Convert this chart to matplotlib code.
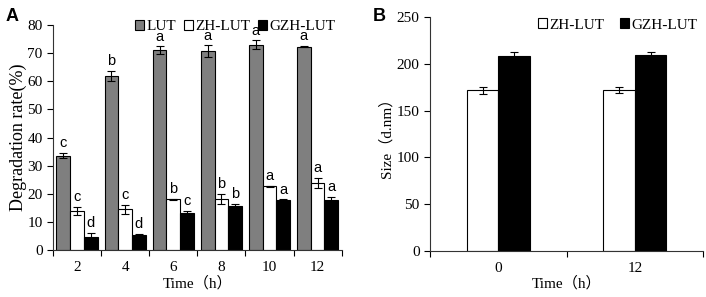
import numpy as np
import matplotlib.pyplot as plt

# panel A data
times_a = ["2", "4", "6", "8", "10", "12"]
lut = [33.6, 61.8, 71.0, 70.7, 73.0, 72.3]
lut_err = [0.9, 1.8, 1.4, 2.0, 1.5, 0.2]
zh = [13.9, 14.5, 18.0, 18.2, 22.7, 23.9]
zh_err = [1.4, 1.6, 0.1, 1.8, 0.2, 1.7]
gzh = [4.5, 5.3, 13.1, 15.8, 17.7, 17.8]
gzh_err = [1.5, 0.4, 0.7, 0.5, 0.3, 1.0]
lut_sig = ["c", "b", "a", "a", "a", "a"]
zh_sig = ["c", "c", "b", "b", "a", "a"]
gzh_sig = ["d", "d", "c", "b", "a", "a"]

# panel B data
times_b = ["0", "12"]
size_zh = [171.5, 171.8]
size_zh_err = [3.5, 3.5]
size_gzh = [208.5, 209.8]
size_gzh_err = [4.5, 3.0]

serif = ["Liberation Serif", "Noto Sans CJK SC"]
sans = ["Liberation Sans", "DejaVu Sans"]
plt.rcParams["font.family"] = serif
plt.rcParams["font.size"] = 10.5

fig = plt.figure(figsize=(7.06, 2.97), dpi=100)
axA = fig.add_axes([0.075, 0.158, 0.409, 0.758])
axB = fig.add_axes([0.609, 0.155, 0.387, 0.788])

ekw = dict(ecolor="black", elinewidth=0.8, capsize=3, capthick=0.8)


def style_axis(ax, n):
    for s in ["top", "right"]:
        ax.spines[s].set_visible(False)
    ax.spines["left"].set_color("#333333")
    ax.spines["bottom"].set_color("#333333")
    ax.set_xlim(-0.5, n - 0.5)
    ax.set_xticks(np.arange(n + 1) - 0.5)
    ax.set_xticklabels([""] * (n + 1))
    ax.tick_params(axis="x", which="major", direction="out", length=4, width=0.8)
    ax.tick_params(axis="y", direction="out", length=4, width=0.8, labelsize=11)
    ax.set_xticks(np.arange(n), minor=True)
    ax.tick_params(axis="x", which="minor", length=0, labelsize=11, pad=8)


# panel A
x = np.arange(len(times_a))
w = 0.285
series = [(lut, lut_err, lut_sig, "#7f7f7f", "LUT"),
          (zh, zh_err, zh_sig, "white", "ZH-LUT"),
          (gzh, gzh_err, gzh_sig, "black", "GZH-LUT")]
for i, (vals, errs, sig, col, lab) in enumerate(series):
    xs = x + (i - 1) * w
    axA.bar(xs, vals, w, yerr=errs, color=col, edgecolor="black",
            linewidth=0.8, error_kw=ekw, label=lab)
    for xi, v, e, s in zip(xs, vals, errs, sig):
        axA.annotate(s, (xi, v + e), xytext=(0, 2), textcoords="offset points",
                     ha="center", va="bottom", fontsize=10.5, family=sans)
axA.set_ylim(0, 80)
axA.set_yticks(range(0, 81, 10))
style_axis(axA, len(times_a))
axA.set_xticklabels(times_a, minor=True)
axA.set_ylabel("Degradation rate(%)", fontsize=13, labelpad=0)
axA.set_xlabel("Time（h）", fontsize=11, labelpad=1)
axA.legend(loc="upper right", bbox_to_anchor=(1.0, 1.05), ncol=3, frameon=False,
           handlelength=0.6, handleheight=0.6, handletextpad=0.15,
           columnspacing=0.5, fontsize=11, borderaxespad=0)
fig.text(0.008, 0.93, "A", fontsize=13, fontweight="bold", family=sans)

# panel B
xb = np.arange(len(times_b))
wb = 0.23
axB.bar(xb - wb / 2, size_zh, wb, yerr=size_zh_err, color="white",
        edgecolor="black", linewidth=0.8, error_kw=ekw, label="ZH-LUT")
axB.bar(xb + wb / 2, size_gzh, wb, yerr=size_gzh_err, color="black",
        edgecolor="black", linewidth=0.8, error_kw=ekw, label="GZH-LUT")
axB.set_ylim(0, 250)
axB.set_yticks(range(0, 251, 50))
style_axis(axB, len(times_b))
axB.set_xticklabels(times_b, minor=True)
axB.set_ylabel("Size（d.nm）", fontsize=11, labelpad=2)
axB.set_xlabel("Time（h）", fontsize=11, labelpad=1)
axB.legend(loc="upper right", bbox_to_anchor=(1.0, 1.02), ncol=2, frameon=False,
           handlelength=0.6, handleheight=0.6, handletextpad=0.15,
           columnspacing=1.0, fontsize=11, borderaxespad=0)
fig.text(0.528, 0.93, "B", fontsize=13, fontweight="bold", family=sans)

fig.savefig("out.png", dpi=100)
